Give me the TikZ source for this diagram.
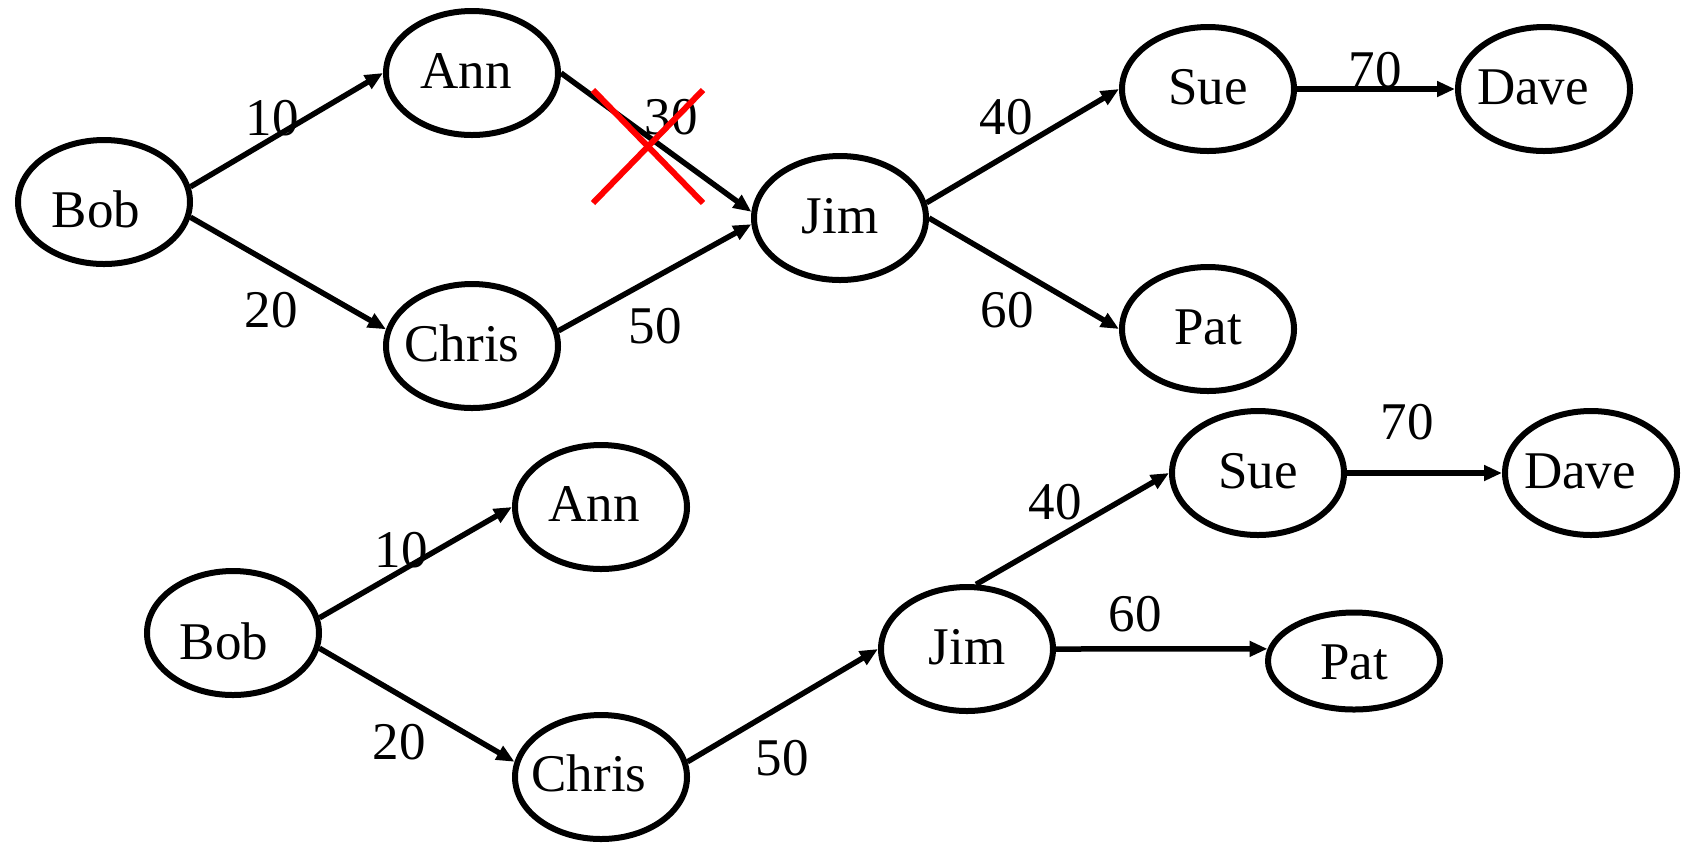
\documentclass[tikz,border=0pt]{standalone}
\usepackage{fontspec}
\setmainfont{Liberation Serif}
\usetikzlibrary{shapes.geometric,arrows.meta}
\newcommand\nlab[3]{\makebox[0pt][c]{\raisebox{#1}[0.68em][0pt]{#3}\kern#2}}
\begin{document}
\begin{tikzpicture}[x=0.5pt,y=-0.5pt,
  person/.style={ellipse,draw,line width=3pt,minimum width=86pt,minimum height=62pt,inner sep=0pt,font=\fontsize{26.5}{31}\selectfont},
  flat/.style={minimum height=48.5pt},
  edge/.style={line width=2.75pt,-{Triangle[length=9pt,width=7.5pt]}},
  wt/.style={inner sep=0pt,font=\fontsize{26.5}{31}\selectfont},
  cross/.style={red,line width=3pt}]
\useasboundingbox (0,0) rectangle (1681,843);
% ---------- top graph ----------
\node[person] (bob1)   at (104,202)  {\nlab{-3.5pt}{8pt}{Bob}};
\node[person] (ann1)   at (472,73)   {\nlab{1.5pt}{6pt}{Ann}};
\node[person] (chris1) at (472,346)  {\nlab{1.5pt}{10pt}{Chris}};
\node[person] (jim1)   at (840,218)  {\nlab{1.5pt}{0pt}{Jim}};
\node[person] (sue1)   at (1208,89)  {\nlab{1.5pt}{0pt}{Sue}};
\node[person] (dave1)  at (1544,89)  {\nlab{1.5pt}{11pt}{Dave}};
\node[person] (pat1)   at (1208,329) {\nlab{1.5pt}{0pt}{Pat}};

\draw[edge] (bob1.10)   -- (ann1.west);
\draw[edge] (bob1.-10)  -- (chris1.169);
\draw[edge] (ann1.east) -- (jim1.176);
\draw[edge] (chris1.10) -- (jim1.184);
\draw[edge] (jim1.10)   -- (sue1.west);
\draw[edge] (jim1.east) -- (pat1.west);
\draw[edge] (sue1.east) -- (dave1.west);

\node[wt] (t10) at (272,118)  {10};
\node[wt] (t20) at (271,310)  {20};
\node[wt] (t30) at (671,117)  {30};
\node[wt] (t50) at (655,326)  {50};
\node[wt] (t40) at (1006,117) {40};
\node[wt] (t60) at (1007,310) {60};
\node[wt] (t70) at (1375,70)  {70};

\coordinate (xa) at (593,90);
\coordinate (xb) at (703,203);
\coordinate (xc) at (703,90);
\coordinate (xd) at (593,203);
\draw[cross] (xa) -- (xb);
\draw[cross] (xc) -- (xd);

% ---------- bottom graph ----------
\node[person] (bob2)   at (233,633)  {\nlab{-4pt}{9pt}{Bob}};
\node[person] (ann2)   at (601,507)  {\nlab{2pt}{7pt}{Ann}};
\node[person] (chris2) at (601,777)  {\nlab{2pt}{12pt}{Chris}};
\node[person] (jim2)   at (967,649)  {\nlab{1.5pt}{0pt}{Jim}};
\node[person] (sue2)   at (1258,473) {\nlab{1.5pt}{0pt}{Sue}};
\node[person] (dave2)  at (1591,473) {\nlab{1.5pt}{11pt}{Dave}};
\node[person,flat] (pat2) at (1354,661) {\nlab{0pt}{0pt}{Pat}};

\draw[edge] (bob2.10)   -- (ann2.west);
\draw[edge] (bob2.-10)  -- (chris2.170);
\draw[edge] (chris2.10) -- (jim2.west);
\draw[edge] (jim2.82)   -- (sue2.west);
\draw[edge] (jim2.east) -- (pat2.172);
\draw[edge] (sue2.east) -- (dave2.west);

\node[wt] (b10) at (401,550)  {10};
\node[wt] (b20) at (399,742)  {20};
\node[wt] (b50) at (782,758)  {50};
\node[wt] (b40) at (1055,502) {40};
\node[wt] (b60) at (1135,614) {60};
\node[wt] (b70) at (1407,422) {70};
\end{tikzpicture}
\end{document}
